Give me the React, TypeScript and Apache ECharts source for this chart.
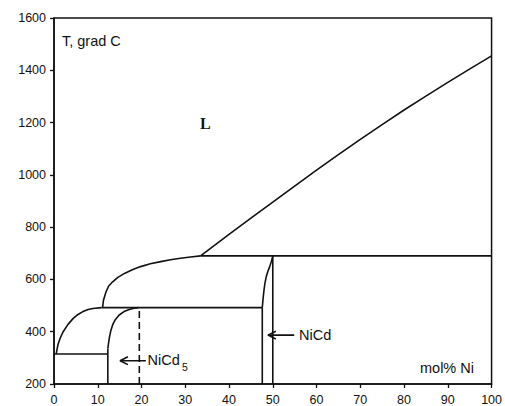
import React, { useEffect, useRef } from "react";
import * as echarts from "echarts";

// Phase boundaries (x = mol% Ni, y = T in °C)
const liquidusUpper = [[33.5, 690], [40, 772], [50, 896], [60, 1018], [70, 1136], [80, 1248], [90, 1354], [100, 1455]];
const liquidusLeft = [[0.5, 315], [0.9, 350], [1.4, 375], [2.1, 400], [3.2, 428], [4.4, 451], [5.5, 466], [6.6, 477], [7.8, 485], [8.9, 489], [10.9, 492]];
const liquidusMid = [[11.1, 492], [11.3, 520], [11.9, 553], [12.5, 575], [13.4, 591], [14.6, 608], [16.1, 623], [17.9, 637], [19.8, 649], [22, 660], [24.4, 668], [26.6, 675], [28.9, 681], [31.2, 686], [33.5, 690]];
const nicd5Vertical = [[12.3, 200], [12.3, 335]];
const nicd5Curve = [[12.3, 335], [12.5, 360], [12.7, 381], [13.0, 405], [13.4, 426], [14.0, 446], [14.9, 464], [16.0, 477], [17.2, 485], [18.3, 490], [19.3, 492]];
const nicdLeftVertical = [[47.6, 200], [47.6, 492]];
const nicdLeftCurve = [[47.6, 492], [47.8, 530], [48.0, 560], [48.2, 585], [48.5, 610], [48.9, 632], [49.3, 649], [49.7, 670], [50, 690]];
const eutecticLine = [[0, 315], [12.3, 315]];
const peritectic1 = [[10.9, 492], [47.6, 492]];
const peritectic2 = [[33.5, 690], [100, 690]];
const nicdLine = [[50, 200], [50, 690]];
const nicd5Dashed = [[19.5, 200], [19.5, 492]];
const arrowNiCd5Shaft = [[21, 289], [15.1, 289]];
const arrowNiCd5Head = [[16.9, 304], [15.1, 289], [16.9, 274]];
const arrowNiCdShaft = [[54.9, 387], [48.9, 387]];
const arrowNiCdHead = [[50.7, 402], [48.9, 387], [50.7, 372]];

const xTicks = { min: 0, max: 100, interval: 10 };
const yTicks = { min: 200, max: 1600, interval: 200 };

const FONT = "Liberation Sans";

export default function App() {
  const ref = useRef<HTMLDivElement>(null);
  useEffect(() => {
    if (!ref.current) return;
    const chart = echarts.init(ref.current, null, { renderer: "svg" });
    const lineSeries = (data: number[][], smooth: number | boolean = false, dashed = false) => ({
      type: "line",
      data,
      showSymbol: false,
      symbol: "none",
      smooth,
      silent: true,
      lineStyle: { color: "#111", width: 1.6, type: dashed ? [7, 4] : "solid" },
    });
    chart.setOption({
      animation: false,
      backgroundColor: "#fff",
      grid: {
        left: 54,
        right: 9,
        top: 18,
        bottom: 22,
        show: true,
        borderColor: "#111",
        borderWidth: 1.5,
        backgroundColor: "transparent",
      },
      xAxis: {
        type: "value",
        min: xTicks.min,
        max: xTicks.max,
        interval: xTicks.interval,
        axisLine: { show: true, lineStyle: { color: "#111", width: 1.5 } },
        axisTick: { show: true, length: 4, lineStyle: { color: "#111", width: 1.3 } },
        splitLine: { show: false },
        axisLabel: { fontFamily: FONT, fontSize: 12.5, color: "#111", margin: 9, formatter: (v: number) => String(v) },
      },
      yAxis: {
        type: "value",
        min: yTicks.min,
        max: yTicks.max,
        interval: yTicks.interval,
        axisLine: { show: true, lineStyle: { color: "#111", width: 1.5 } },
        axisTick: { show: true, length: 4, lineStyle: { color: "#111", width: 1.3 } },
        splitLine: { show: false },
        axisLabel: { fontFamily: FONT, fontSize: 12.5, color: "#111", margin: 8, formatter: (v: number) => String(v) },
      },
      series: [
        lineSeries(liquidusUpper, 0.2),
        lineSeries(liquidusLeft, false),
        lineSeries(liquidusMid, false),
        lineSeries(nicd5Vertical),
        lineSeries(nicd5Curve, false),
        lineSeries(nicdLeftVertical),
        lineSeries(nicdLeftCurve, false),
        lineSeries(eutecticLine),
        lineSeries(peritectic1),
        lineSeries(peritectic2),
        lineSeries(nicdLine),
        lineSeries(nicd5Dashed, false, true),
        lineSeries(arrowNiCd5Shaft),
        lineSeries(arrowNiCd5Head),
        lineSeries(arrowNiCdShaft),
        lineSeries(arrowNiCdHead),
      ],
      graphic: [
        { type: "text", left: 62, top: 33, style: { text: "T, grad C", fontFamily: FONT, fontSize: 14.5, fill: "#111" } },
        { type: "text", left: 200, top: 115, style: { text: "L", fontFamily: "Liberation Serif", fontWeight: "bold", fontSize: 16, fill: "#111" } },
        { type: "text", left: 147.5, top: 352, style: { text: "NiCd", fontFamily: FONT, fontSize: 14.5, fill: "#111" } },
        { type: "text", left: 182, top: 361, style: { text: "5", fontFamily: FONT, fontSize: 10.5, fill: "#111" } },
        { type: "text", left: 299, top: 327, style: { text: "NiCd", fontFamily: FONT, fontSize: 14.5, fill: "#111" } },
        { type: "text", left: 420, top: 360, style: { text: "mol% Ni", fontFamily: FONT, fontSize: 14.5, fill: "#111" } },
      ],
    });
    return () => chart.dispose();
  }, []);
  return <div ref={ref} style={{ position: "fixed", left: 0, top: 0, width: 505, height: 406 }} />;
}
